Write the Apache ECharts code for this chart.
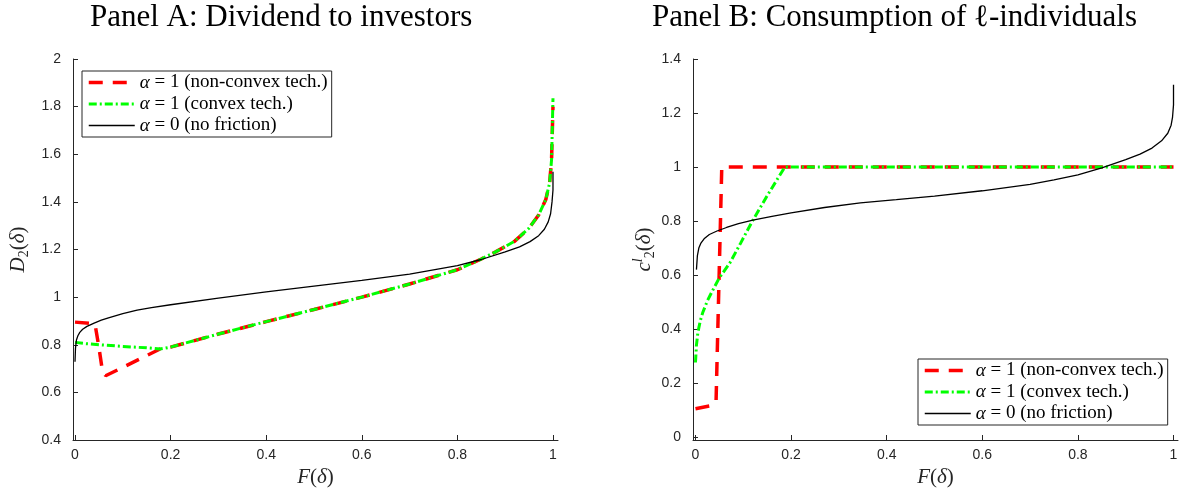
<!DOCTYPE html>
<html>
<head>
<meta charset="utf-8">
<script src="https://cdn.jsdelivr.net/npm/echarts@6/dist/echarts.min.js"></script>
<style>html,body{margin:0;padding:0;background:#fff;}#c{width:1181px;height:497px;}</style>
</head>
<body>
<div id="c"></div>
<script>
// ---------- Data ----------
var xTicks = [0, 0.2, 0.4, 0.6, 0.8, 1];
var yTicksA = [0.4, 0.6, 0.8, 1, 1.2, 1.4, 1.6, 1.8, 2];
var yTicksB = [0, 0.2, 0.4, 0.6, 0.8, 1, 1.2, 1.4];

var seriesNames = ['α = 1 (non-convex tech.)', 'α = 1 (convex tech.)', 'α = 0 (no friction)'];

// Panel A: dividend to investors
var aRedF   = [0, 0.03, 0.042, 0.05, 0.057, 0.064, 0.1, 0.14, 0.178, 0.2, 0.3, 0.4, 0.5, 0.6, 0.7, 0.8, 0.85, 0.88, 0.92, 0.95, 0.97, 0.985, 0.993, 0.997, 1.0];
var aRedY   = [0.895, 0.89, 0.885, 0.79, 0.695, 0.67, 0.705, 0.745, 0.782, 0.79, 0.845, 0.897, 0.948, 1.0, 1.055, 1.115, 1.16, 1.19, 1.235, 1.29, 1.345, 1.41, 1.48, 1.576, 1.80];
var aGreenF = [0, 0.02, 0.05, 0.1, 0.15, 0.178, 0.2, 0.3, 0.4, 0.5, 0.6, 0.7, 0.8, 0.85, 0.88, 0.92, 0.95, 0.97, 0.985, 0.993, 0.997, 1.0];
var aGreenY = [0.81, 0.805, 0.80, 0.793, 0.787, 0.782, 0.79, 0.845, 0.897, 0.948, 1.0, 1.055, 1.115, 1.16, 1.19, 1.235, 1.29, 1.345, 1.41, 1.48, 1.576, 1.835];
var aBlackF = [0, 0.001, 0.003, 0.006, 0.01, 0.016, 0.025, 0.04, 0.055, 0.07, 0.1, 0.13, 0.16, 0.2, 0.3, 0.4, 0.5, 0.6, 0.7, 0.8, 0.85, 0.9, 0.93, 0.952, 0.97, 0.982, 0.99, 0.995, 0.998, 1.0, 1.0];
var aBlackY = [0.729, 0.785, 0.82, 0.838, 0.852, 0.865, 0.877, 0.891, 0.903, 0.913, 0.931, 0.945, 0.956, 0.968, 0.996, 1.022, 1.046, 1.07, 1.097, 1.132, 1.158, 1.19, 1.211, 1.233, 1.258, 1.285, 1.316, 1.35, 1.40, 1.45, 1.527];

// Panel B: consumption of l-individuals
var bRedF   = [0, 0.03, 0.043, 0.055, 1.0];
var bRedY   = [0.105, 0.115, 0.13, 1.0, 1.0];
var bGreenF = [0, 0.002, 0.005, 0.01, 0.015, 0.025, 0.035, 0.05, 0.072, 0.095, 0.117, 0.149, 0.187, 1.0];
var bGreenY = [0.276, 0.34, 0.387, 0.43, 0.46, 0.505, 0.54, 0.59, 0.645, 0.72, 0.793, 0.891, 1.0, 1.0];
var bBlackF = [0.002, 0.004, 0.007, 0.011, 0.018, 0.029, 0.045, 0.065, 0.09, 0.12, 0.16, 0.2, 0.27, 0.345, 0.42, 0.5, 0.6, 0.7, 0.75, 0.8, 0.85, 0.9, 0.93, 0.955, 0.975, 0.988, 0.995, 0.998, 1.0, 1.0];
var bBlackY = [0.62, 0.672, 0.7, 0.717, 0.734, 0.75, 0.763, 0.776, 0.79, 0.803, 0.817, 0.83, 0.85, 0.867, 0.879, 0.892, 0.912, 0.936, 0.952, 0.971, 0.997, 1.027, 1.048, 1.07, 1.097, 1.125, 1.155, 1.185, 1.23, 1.305];

// ---------- Build ----------
function zip(xs, ys) { return xs.map(function (x, i) { return [x, ys[i]]; }); }

var AX = '#262626';
var serif = '"Liberation Serif", "DejaVu Serif", serif';
var sans = '"Liberation Sans", Arial, sans-serif';

var styles = [
  { color: '#ff0000', width: 3.5, type: [14, 10] },
  { color: '#00ff00', width: 3, type: [8, 3, 2, 3] },
  { color: '#000000', width: 1.3, type: 'solid' }
];

function mkSeries(name, idx, data, s) {
  return {
    type: 'line', name: name, xAxisIndex: idx, yAxisIndex: idx,
    data: data, showSymbol: false, symbol: 'none', smooth: false,
    lineStyle: { color: s.color, width: s.width, type: s.type, cap: 'butt' },
    itemStyle: { color: s.color },
    emphasis: { disabled: true }, silent: true, z: 2
  };
}

function xAxisCfg(gi, min, max) {
  return {
    type: 'value', gridIndex: gi, min: min, max: max,
    axisLine: { show: true, onZero: false, lineStyle: { color: AX, width: 1 } },
    axisTick: { show: true, inside: true, length: 5, customValues: xTicks, lineStyle: { color: AX } },
    axisLabel: { customValues: xTicks, color: AX, fontFamily: sans, fontSize: 14, margin: 8,
      formatter: function (v) { return String(+v.toFixed(1)); } },
    splitLine: { show: false },
    name: '{i|F}{n|(}{i|δ}{n|)}', nameLocation: 'middle', nameGap: 27,
    nameTextStyle: { rich: {
      i: { fontFamily: serif, fontStyle: 'italic', fontSize: 21, color: AX },
      n: { fontFamily: serif, fontSize: 21, color: AX } } }
  };
}

function yAxisCfg(gi, min, max, ticks, name, gap) {
  return {
    type: 'value', gridIndex: gi, min: min, max: max,
    axisLine: { show: true, onZero: false, lineStyle: { color: AX, width: 1 } },
    axisTick: { show: true, inside: true, length: 5, customValues: ticks, lineStyle: { color: AX } },
    axisLabel: { customValues: ticks, color: AX, fontFamily: sans, fontSize: 14, margin: 12,
      formatter: function (v) { return String(+v.toFixed(1)); } },
    splitLine: { show: false },
    name: name, nameLocation: 'middle', nameGap: gap, nameRotate: 90,
    nameTextStyle: { rich: {
      i: { fontFamily: serif, fontStyle: 'italic', fontSize: 21, color: AX, lineHeight: 26, verticalAlign: 'middle' },
      n: { fontFamily: serif, fontSize: 21, color: AX, lineHeight: 26, verticalAlign: 'middle' },
      sub: { fontFamily: serif, fontSize: 14, color: AX, lineHeight: 26, verticalAlign: 'bottom' },
      sup: { fontFamily: serif, fontStyle: 'italic', fontSize: 14, color: AX, lineHeight: 26, verticalAlign: 'top' } } }
  };
}

var legendRich = {
  i: { fontFamily: serif, fontStyle: 'italic', fontSize: 19, color: '#000', lineHeight: 21 },
  n: { fontFamily: serif, fontSize: 19, color: '#000', lineHeight: 21 }
};
function legendFmt(name) {
  return '{i|α}{n|' + name.slice(1) + '}';
}
function legendCfg(left, top) {
  return {
    orient: 'vertical', left: left, top: top, selectedMode: false,
    data: seriesNames, itemWidth: 46, itemHeight: 12, itemGap: 0.5,
    padding: [1, 4, 1, 5], backgroundColor: '#fff', borderColor: AX, borderWidth: 1,
    itemStyle: { opacity: 0, borderWidth: 0 },
    lineStyle: { width: 'inherit' },
    formatter: legendFmt,
    textStyle: { fontFamily: serif, fontSize: 19, lineHeight: 21, rich: legendRich }
  };
}

var option = {
  animation: false,
  backgroundColor: '#fff',
  title: [
    { text: 'Panel A: Dividend to investors', left: 90, top: 2, padding: 0,
      textStyle: { fontFamily: serif, fontWeight: 'normal', fontSize: 31, color: '#000' } },
    { text: 'Panel B: Consumption of ℓ-individuals', left: 652, top: 2, padding: 0,
      textStyle: { fontFamily: serif, fontWeight: 'normal', fontSize: 31, color: '#000' } }
  ],
  grid: [
    { left: 73, top: 59, width: 485, height: 381, containLabel: false },
    { left: 693, top: 59, width: 485, height: 381, containLabel: false }
  ],
  xAxis: [ xAxisCfg(0, -0.0042, 1.0105), xAxisCfg(1, -0.0052, 1.0094) ],
  yAxis: [
    yAxisCfg(0, 0.4, 2, yTicksA, '{i|D}{sub|2}{n|(}{i|δ}{n|)}', 42),
    yAxisCfg(1, -0.011, 1.4, yTicksB, '{i|c}{sup|l}{sub|2}{n|(}{i|δ}{n|)}', 33)
  ],
  legend: [ legendCfg(82, 71), legendCfg(918, 359) ],
  series: [
    mkSeries(seriesNames[0], 0, zip(aRedF, aRedY), styles[0]),
    mkSeries(seriesNames[1], 0, zip(aGreenF, aGreenY), styles[1]),
    mkSeries(seriesNames[2], 0, zip(aBlackF, aBlackY), styles[2]),
    mkSeries(seriesNames[0], 1, zip(bRedF, bRedY), styles[0]),
    mkSeries(seriesNames[1], 1, zip(bGreenF, bGreenY), styles[1]),
    mkSeries(seriesNames[2], 1, zip(bBlackF, bBlackY), styles[2])
  ]
};

var chart = echarts.init(document.getElementById('c'), null, { renderer: 'canvas' });
chart.setOption(option);
</script>
</body>
</html>
